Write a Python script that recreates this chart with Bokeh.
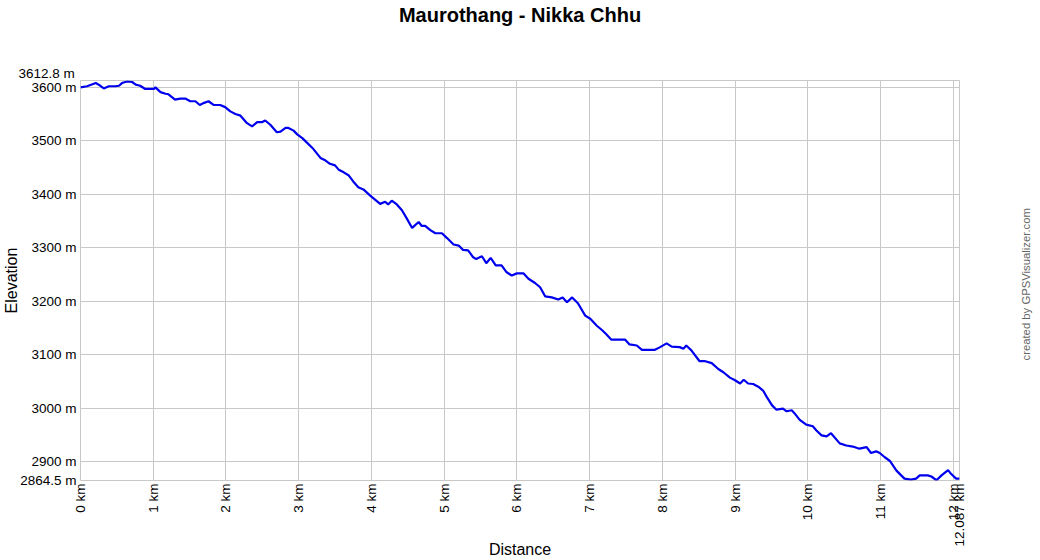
from math import pi
from bokeh.plotting import figure
from bokeh.models import FixedTicker, Range1d, CustomJSTickFormatter, Title, LinearAxis
from bokeh.embed import file_html
from bokeh.resources import INLINE

chart_title = "Maurothang - Nikka Chhu"
x_label = "Distance"
y_label = "Elevation"
credit = "created by GPSVisualizer.com"

distance_km = [
    0.00, 0.09, 0.21, 0.25, 0.32, 0.39, 0.48, 0.53, 0.57, 0.64, 0.71, 0.76, 0.82, 0.89,
    1.01, 1.03, 1.10, 1.17, 1.21, 1.30, 1.37, 1.44, 1.51, 1.58, 1.64, 1.70, 1.76, 1.83, 1.92, 1.99,
    2.06, 2.13, 2.20, 2.29, 2.36, 2.43, 2.50, 2.54, 2.61, 2.70, 2.75, 2.82, 2.86, 2.93, 2.98,
    3.05, 3.11, 3.20, 3.30, 3.37, 3.43, 3.50, 3.55, 3.62, 3.69, 3.75, 3.82, 3.89, 3.98,
    4.12, 4.19, 4.23, 4.28, 4.35, 4.42, 4.49, 4.56, 4.65, 4.69, 4.74, 4.81, 4.88, 4.97,
    5.04, 5.13, 5.20, 5.26, 5.33, 5.40, 5.44, 5.52, 5.58, 5.64, 5.71, 5.79, 5.86, 5.93,
    6.00, 6.09, 6.16, 6.25, 6.32, 6.39, 6.48, 6.57, 6.63, 6.69, 6.76, 6.84, 6.94,
    7.01, 7.10, 7.17, 7.23, 7.30, 7.37, 7.49, 7.55, 7.65, 7.72, 7.90, 7.97,
    8.06, 8.13, 8.24, 8.29, 8.33, 8.40, 8.51, 8.58, 8.68, 8.77, 8.84, 8.93,
    9.00, 9.07, 9.12, 9.18, 9.25, 9.32, 9.39, 9.44, 9.51, 9.57, 9.66, 9.71, 9.78, 9.82, 9.89, 9.98,
    10.07, 10.12, 10.19, 10.26, 10.32, 10.44, 10.53, 10.62, 10.71, 10.81, 10.87, 10.94, 10.99,
    11.06, 11.13, 11.22, 11.33, 11.42, 11.49, 11.54, 11.65, 11.70, 11.77, 11.84, 11.93, 11.97,
    12.04, 12.087,
]
elevation_m = [
    3600, 3602, 3608, 3605, 3598, 3602, 3602, 3603, 3608, 3611, 3610, 3605, 3603, 3597,
    3597, 3600, 3591, 3588, 3587, 3577, 3579, 3579, 3574, 3574, 3567, 3571, 3574, 3567, 3567, 3563,
    3555, 3550, 3547, 3533, 3527, 3535, 3535, 3538, 3530, 3516, 3517, 3524, 3524, 3519, 3512,
    3505, 3497, 3485, 3468, 3463, 3457, 3454, 3446, 3441, 3435, 3424, 3413, 3409, 3398,
    3382, 3386, 3381, 3388, 3381, 3370, 3354, 3337, 3348, 3341, 3341, 3333, 3327, 3327,
    3318, 3306, 3304, 3296, 3295, 3282, 3279, 3284, 3271, 3281, 3267, 3267, 3254, 3248,
    3252, 3252, 3242, 3234, 3226, 3209, 3207, 3203, 3207, 3198, 3207, 3196, 3173,
    3167, 3154, 3146, 3138, 3128, 3128, 3128, 3119, 3117, 3109, 3109, 3114,
    3121, 3115, 3114, 3111, 3117, 3108, 3088, 3088, 3084, 3073, 3067, 3057,
    3052, 3046, 3053, 3046, 3045, 3040, 3032, 3020, 3005, 2997, 2999, 2994, 2996, 2990, 2978, 2969,
    2966, 2958, 2949, 2947, 2953, 2934, 2930, 2928, 2924, 2927, 2916, 2919, 2916,
    2908, 2901, 2883, 2868, 2866, 2868, 2874, 2874, 2872, 2865, 2874, 2884, 2877,
    2868, 2868,
]

x_min, x_max = 0.0, 12.087
y_min, y_max = 2864.5, 3612.8
x_ticks = [0, 1, 2, 3, 4, 5, 6, 7, 8, 9, 10, 11, 12, 12.087]
y_ticks = [2864.5, 2900, 3000, 3100, 3200, 3300, 3400, 3500, 3600]

FONT = "Liberation Sans"
GRID = "#c8c8c8"
TICK_SIZE = "13.5px"


def bare(ax):
    ax.axis_line_color = None
    ax.major_tick_line_color = None
    ax.minor_tick_line_color = None
    ax.major_tick_in = 0
    ax.major_tick_out = 0
    ax.minor_tick_in = 0
    ax.minor_tick_out = 0
    ax.major_label_text_font = FONT


p = figure(width=1040, height=560, output_backend="svg", toolbar_location=None,
           x_range=Range1d(x_min, x_max), y_range=Range1d(y_min, y_max),
           min_border_left=80, min_border_right=80, min_border_top=80, min_border_bottom=80,
           title=None)
p.background_fill_color = "white"
p.border_fill_color = "white"
p.outline_line_color = GRID

p.line(distance_km, elevation_m, line_color="#0000ee", line_width=2.2)

xa = p.xaxis[0]
ya = p.yaxis[0]
for ax in (xa, ya):
    bare(ax)
    ax.major_label_text_font_size = TICK_SIZE
    ax.major_label_text_color = "black"
    ax.axis_label_text_font = FONT
    ax.axis_label_text_font_size = "16px"
    ax.axis_label_text_font_style = "normal"
    ax.axis_label_text_color = "black"

xa.ticker = FixedTicker(ticks=x_ticks)
ya.ticker = FixedTicker(ticks=y_ticks)
xa.formatter = CustomJSTickFormatter(code="return tick + ' km'")
ya.formatter = CustomJSTickFormatter(code="return tick + ' m'")
xa.major_label_orientation = pi / 2
xa.major_label_standoff = 3
ya.major_label_standoff = 4
xa.axis_label = x_label
ya.axis_label = y_label
xa.axis_label_standoff = -9
ya.axis_label_standoff = -3

p.xgrid[0].ticker = FixedTicker(ticks=x_ticks)
p.ygrid[0].ticker = FixedTicker(ticks=y_ticks)
p.xgrid.grid_line_color = GRID
p.ygrid.grid_line_color = GRID

# max elevation label just above the frame's top-left corner
p.add_layout(Title(text=f"{y_max} m", align="left", offset=-62, standoff=0,
                   text_font=FONT, text_font_size=TICK_SIZE, text_font_style="normal",
                   text_color="black"), "above")

# chart title, written as the single tick label of a bare top axis
title_axis = LinearAxis(ticker=FixedTicker(ticks=[(x_min + x_max) / 2]),
                        formatter=CustomJSTickFormatter(code="return " + repr(chart_title)))
bare(title_axis)
title_axis.major_label_standoff = 38
title_axis.major_label_text_font_size = "20px"
title_axis.major_label_text_font_style = "bold"
title_axis.major_label_text_color = "black"
p.add_layout(title_axis, "above")

# credit on the right side, written as the single tick label of a bare axis
credit_anchor = y_min + 0.3 * (y_max - y_min)
credit_axis = LinearAxis(ticker=FixedTicker(ticks=[credit_anchor]),
                         formatter=CustomJSTickFormatter(code="return " + repr(credit)))
bare(credit_axis)
credit_axis.major_label_orientation = pi / 2
credit_axis.major_label_standoff = 66
credit_axis.major_label_text_font_size = "11.3px"
credit_axis.major_label_text_color = "#666666"
p.add_layout(credit_axis, "right")

open("out.html", "w").write(file_html(p, INLINE))
